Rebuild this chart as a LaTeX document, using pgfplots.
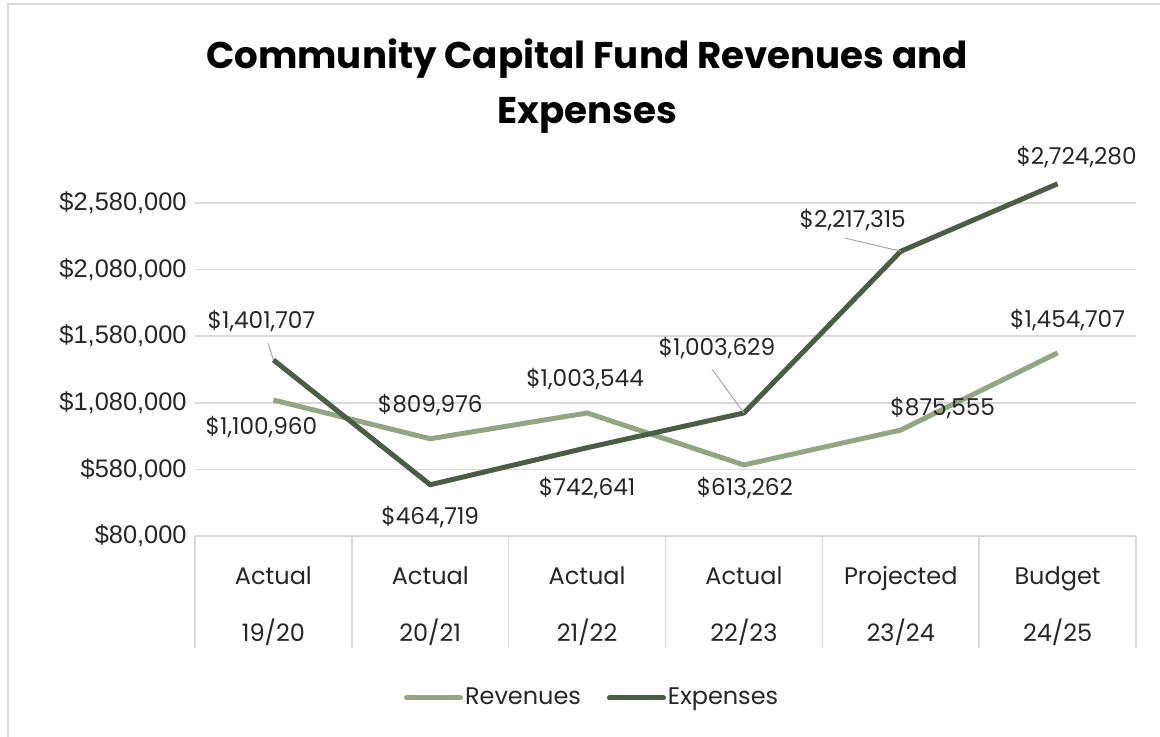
\documentclass[border=0pt]{standalone}
\usepackage{pgfplots}
\pgfplotsset{compat=1.18}
\usepackage{fontspec}
\setmainfont{Poppins}
\newfontfamily\tickfont{Liberation Sans}
\definecolor{rev}{HTML}{93A684}
\definecolor{exp}{HTML}{4A5E45}
\definecolor{gridc}{HTML}{D9D9D9}
\definecolor{lead}{HTML}{A6A6A6}
\definecolor{txt}{HTML}{262626}
\begin{document}
\begin{tikzpicture}[x=1pt,y=1pt]
\useasboundingbox (0,0) rectangle (580,368.5);
\draw[gridc, line width=1pt] (4,0) -- (4,366.5) -- (580,366.5);
\node[font=\fontsize{18.6}{27.5}\selectfont\bfseries, align=center, text=black] at (293.5,325.5) {Community Capital Fund Revenues and\\Expenses};
\begin{axis}[
  at={(97.5pt,100.5pt)}, anchor=south west,
  scale only axis, width=470.5pt, height=166.5pt,
  xmin=-0.5, xmax=5.5, ymin=80000, ymax=2580000,
  clip=false,
  scaled y ticks=false,
  axis line style={draw=none},
  ymajorgrids, grid style={gridc, line width=0.8pt},
  ytick={80000,580000,1080000,1580000,2080000,2580000},
  yticklabels={{\$80,000},{\$580,000},{\$1,080,000},{\$1,580,000},{\$2,080,000},{\$2,580,000}},
  yticklabel style={font=\tickfont\fontsize{12.7}{15}\selectfont, text=txt, inner sep=0pt, xshift=-4pt},
  xtick={0,1,2,3,4,5},
  xtick pos=bottom, ytick pos=left,
  xticklabels={{Actual\\19/20},{Actual\\20/21},{Actual\\21/22},{Actual\\22/23},{Projected\\23/24},{Budget\\24/25}},
  xticklabel style={font=\fontsize{12}{28.5}\selectfont, text=txt, align=center, inner sep=0pt, anchor=north, yshift=-15pt},
  minor xtick={-0.5,0.5,1.5,2.5,3.5,4.5,5.5},
  tick align=outside,
  major tick length=0pt,
  minor tick length=56pt,
  minor x tick style={gridc, line width=0.8pt},
  ytick style={draw=none},
  major x tick style={draw=none},
  legend style={draw=none, fill=none, at={(0.422,-0.4865)}, anchor=center, legend columns=2,
    font=\fontsize{12}{14}\selectfont, text=txt,
    nodes={inner xsep=1pt},
    /tikz/every even column/.append style={column sep=12pt}},
  legend image code/.code={\draw[#1, line cap=round] (0pt,0pt) -- (27pt,0pt);},
]
\addplot[rev, line width=2.5pt, line join=round] coordinates {(0,1100960) (1,809976) (2,1003544) (3,613262) (4,875555) (5,1454707)};
\addlegendentry{Revenues}
\addplot[exp, line width=2.5pt, line join=round] coordinates {(0,1401707) (1,464719) (2,742641) (3,1003629) (4,2217315) (5,2724280)};
\addlegendentry{Expenses}
\begin{scope}[every node/.style={font=\fontsize{11.6}{13}\selectfont, text=txt, inner sep=0pt}]
\node[xshift=-6pt, yshift=-13.5pt] at (axis cs:0,1100960) {\$1,100,960};
\node[xshift=-6pt, yshift=19.5pt] at (axis cs:0,1401707) {\$1,401,707};
\node[yshift=17pt] at (axis cs:1,809976) {\$809,976};
\node[yshift=-16pt] at (axis cs:1,464719) {\$464,719};
\node[xshift=-1pt, yshift=17pt] at (axis cs:2,1003544) {\$1,003,544};
\node[yshift=-20pt] at (axis cs:2,742641) {\$742,641};
\node[xshift=0.5pt, yshift=-11.5pt] at (axis cs:3,613262) {\$613,262};
\node[xshift=-13.5pt, yshift=32.5pt] at (axis cs:3,1003629) {\$1,003,629};
\node[xshift=21pt, yshift=11pt] at (axis cs:4,875555) {\$875,555};
\node[xshift=-24pt, yshift=15.5pt] at (axis cs:4,2217315) {\$2,217,315};
\node[xshift=5pt, yshift=16.5pt] at (axis cs:5,1454707) {\$1,454,707};
\node[xshift=9.5pt, yshift=13.5pt] at (axis cs:5,2724280) {\$2,724,280};
\end{scope}
\draw[lead, line width=0.5pt] (axis cs:0,1401707) -- ++(-2.7pt,8.5pt);
\draw[lead, line width=0.5pt] (axis cs:3,1003629) -- ++(-16pt,22pt);
\draw[lead, line width=0.5pt] (axis cs:4,2217315) -- ++(-27.8pt,6.6pt);
\end{axis}
\end{tikzpicture}
\end{document}
